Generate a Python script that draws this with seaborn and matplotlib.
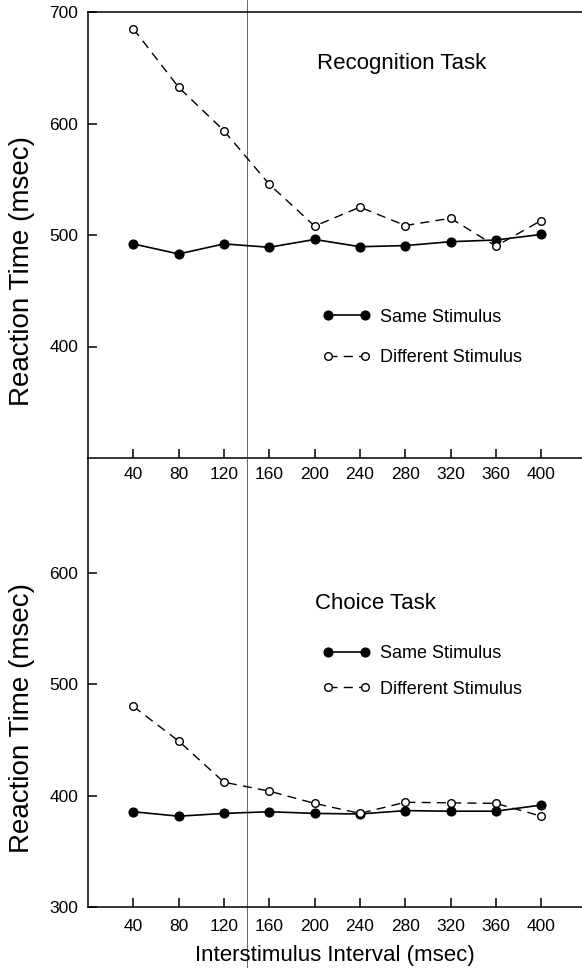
import numpy as np
import pandas as pd
import matplotlib
matplotlib.use("Agg")
import matplotlib.pyplot as plt
import seaborn as sns

# ---------------- data ----------------
isi = [40, 80, 120, 160, 200, 240, 280, 320, 360, 400]

recog_same = [492, 483, 492, 489, 496, 489.5, 490.5, 494, 495.5, 500.5]
recog_diff = [685, 632.5, 593.5, 545.5, 508, 525, 508.5, 515, 490, 513]

choice_same = [385.5, 381.5, 384, 385.5, 384, 383.5, 386.5, 386, 386, 391.5]
choice_diff = [480, 449, 412, 404, 393, 384, 394, 393.5, 393, 381.5]

x_ticks = [40, 80, 120, 160, 200, 240, 280, 320, 360, 400]
top_yticks = [400, 500, 600, 700]
bot_yticks = [300, 400, 500, 600]

series_labels = ["Same Stimulus", "Different Stimulus"]
panel_titles = ["Recognition Task", "Choice Task"]
ylabel = "Reaction Time (msec)"
xlabel = "Interstimulus Interval (msec)"
divider_x = 140

# ---------------- style ----------------
sns.set_theme(style="white")
plt.rcParams["font.family"] = ["Liberation Sans", "DejaVu Sans"]
plt.rcParams["axes.edgecolor"] = "black"
plt.rcParams["axes.linewidth"] = 1.1
plt.rcParams["xtick.color"] = "black"
plt.rcParams["ytick.color"] = "black"
plt.rcParams["text.color"] = "black"
plt.rcParams["axes.labelcolor"] = "black"

W, H = 582, 968
fig = plt.figure(figsize=(W / 100, H / 100), dpi=100)

left = 88 / W
width = (W - 88) / W
ax_top = fig.add_axes([left, (H - 458) / H, width, 446 / H])
ax_bot = fig.add_axes([left, (H - 907) / H, width, 449 / H])

df_top = pd.DataFrame({"isi": isi, "same": recog_same, "diff": recog_diff})
df_bot = pd.DataFrame({"isi": isi, "same": choice_same, "diff": choice_diff})

dash = (0, (6.5, 4.5))

for ax, df in [(ax_top, df_top), (ax_bot, df_bot)]:
    sns.lineplot(data=df, x="isi", y="same", ax=ax, color="black",
                 marker="o", markersize=6.5, linewidth=1.2,
                 markeredgecolor="black", markerfacecolor="black",
                 markeredgewidth=0.8, label=series_labels[0])
    sns.lineplot(data=df, x="isi", y="diff", ax=ax, color="black",
                 marker="o", markersize=5.5, linewidth=1.0,
                 linestyle=dash,
                 markeredgecolor="black", markerfacecolor="white",
                 markeredgewidth=1.0, label=series_labels[1])
    ax.set_xlim(0, 436)
    ax.set_xticks(x_ticks)
    ax.set_xticklabels([str(t) for t in x_ticks])
    ax.tick_params(axis="both", direction="in", length=6.5, width=1.1,
                   labelsize=12.5, bottom=True, left=True,
                   top=False, right=False)
    ax.tick_params(axis="y", pad=7.2)
    ax.spines["right"].set_visible(False)
    ax.set_facecolor("none")

# top panel
ax_top.set_ylim(300, 700)
ax_top.set_yticks(top_yticks)
ax_top.tick_params(axis="x", pad=6.5)
ax_top.set_xlabel("")
ax_top.set_ylabel(ylabel, fontsize=20, va="center", ha="center")
ax_top.yaxis.set_label_coords((22 - 88) / 494, 0.419)
ax_top.text(202, 654, panel_titles[0], fontsize=16, ha="left", va="center")

# bottom panel
ax_bot.set_ylim(300, 703)
ax_bot.set_yticks(bot_yticks)
ax_bot.spines["top"].set_visible(False)
ax_bot.tick_params(axis="x", pad=8.5)
ax_bot.set_xlabel(xlabel, fontsize=16, va="center", ha="center")
ax_bot.xaxis.set_label_coords(0.5, (907 - 955) / 449)
ax_bot.set_ylabel(ylabel, fontsize=20, va="center", ha="center")
ax_bot.yaxis.set_label_coords((22 - 88) / 494, 0.421)
ax_bot.text(200, 572, panel_titles[1], fontsize=16, ha="left", va="center")

# legends
leg_kw = dict(frameon=False, numpoints=2, fontsize=13, handlelength=2.6,
              handletextpad=0.55, borderpad=0, borderaxespad=0,
              loc="center left")
ax_top.legend(bbox_to_anchor=((323 - 88) / 494, (458 - 337.5) / 446),
              labelspacing=1.3, **leg_kw)
ax_bot.legend(bbox_to_anchor=((323 - 88) / 494, (907 - 671.5) / 449),
              labelspacing=1.0, **leg_kw)

# vertical divider running through the whole figure
ax_top.axvline(divider_x, ymin=0, ymax=458 / 446, color="#666666",
               linewidth=0.7, clip_on=False, zorder=0)
ax_bot.axvline(divider_x, ymin=(907 - 968) / 449, ymax=1, color="#666666",
               linewidth=0.7, clip_on=False, zorder=0)

fig.savefig("out.png", dpi=100, facecolor="white")
